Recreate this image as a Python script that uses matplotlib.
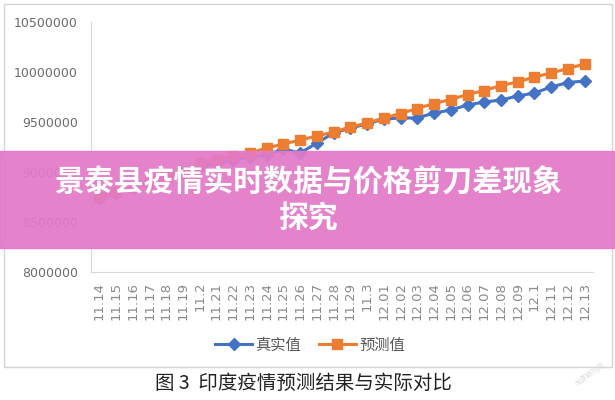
import matplotlib
matplotlib.use("Agg")
import matplotlib.pyplot as plt
from matplotlib.patches import Rectangle

plt.rcParams['font.family'] = ['Noto Sans CJK SC', 'DejaVu Sans']

# 日期标签
dates = ["11.14", "11.15", "11.16", "11.17", "11.18", "11.19", "11.2", "11.21",
         "11.22", "11.23", "11.24", "11.25", "11.26", "11.27", "11.28", "11.29",
         "11.3", "12.01", "12.02", "12.03", "12.04", "12.05", "12.06", "12.07",
         "12.08", "12.09", "12.1", "12.11", "12.12", "12.13"]

# 真实值
real = [8740000, 8790000, 8840000, 8890000, 8940000, 8990000, 9050000, 9090000,
        9120000, 9150000, 9170000, 9230000, 9190000, 9290000, 9390000, 9440000,
        9480000, 9530000, 9540000, 9540000, 9590000, 9620000, 9670000, 9700000,
        9720000, 9760000, 9790000, 9850000, 9895000, 9910000]

# 预测值
pred = [8750000, 8800000, 8850000, 8900000, 8950000, 9010000, 9090000, 9120000,
        9160000, 9190000, 9240000, 9280000, 9320000, 9360000, 9400000, 9450000,
        9490000, 9540000, 9585000, 9635000, 9685000, 9725000, 9775000, 9815000,
        9865000, 9900000, 9950000, 9990000, 10035000, 10080000]

yticks = [8000000, 8500000, 9000000, 9500000, 10000000, 10500000]

fig = plt.figure(figsize=(6.15, 4), dpi=100)
ax = fig.add_axes([91 / 615, 1 - 272 / 400, (593 - 91) / 615, 250 / 400])

x = list(range(len(dates)))
ax.plot(x, real, color='#4472C4', lw=2.2, marker='D', ms=6.5, label='真实值')
ax.plot(x, pred, color='#ED7D31', lw=2.2, marker='s', ms=7.5, label='预测值')

ax.set_xlim(-0.5, len(dates) - 0.5)
ax.set_ylim(8000000, 10500000)
ax.set_yticks(yticks)
ax.set_yticklabels([str(v) for v in yticks], fontsize=9, color='#6b6b6b',
                   family='DejaVu Sans')
ax.set_xticks(x)
ax.set_xticklabels(dates, rotation=90, fontsize=9.5, color='#8a8a8a',
                   family='DejaVu Sans')
ax.tick_params(length=0, pad=7)
ax.tick_params(axis='y', pad=9.5)

for s in ['top', 'right']:
    ax.spines[s].set_visible(False)
ax.spines['left'].set_color('#d9d9d9')
ax.spines['bottom'].set_color('#d9d9d9')

leg = fig.legend(loc='center', bbox_to_anchor=(310 / 615, 1 - 345 / 400), ncol=2,
                 frameon=False, fontsize=11, handlelength=2.4, columnspacing=1.2,
                 handletextpad=0.2)
for t in leg.get_texts():
    t.set_color('#595959')

# 外框
fig.patches.append(Rectangle((4 / 615, 1 - 367 / 400), 608 / 615, 363 / 400,
                             transform=fig.transFigure, fill=False,
                             edgecolor='#d4d4d4', lw=1))

fig.text(303 / 615, 1 - 383 / 400, "图 3  印度疫情预测结果与实际对比",
         ha='center', va='center', fontsize=14, color='#222222')
fig.text(590 / 615, 1 - 375 / 400, "龙源期刊网", ha='center', va='center',
         fontsize=5, color='#dddddd', rotation=35)

# 粉色横幅
fig.patches.append(Rectangle((0, 1 - 248 / 400), 1, 97 / 400,
                             transform=fig.transFigure, color='#e27ac8',
                             alpha=0.93, zorder=5))
fig.text(308 / 615, 1 - 183 / 400, "景泰县疫情实时数据与价格剪刀差现象",
         ha='center', va='center', fontsize=21.5, color='white',
         fontweight='heavy', zorder=6)
fig.text(308 / 615, 1 - 219 / 400, "探究", ha='center', va='center',
         fontsize=21.5, color='white', fontweight='heavy', zorder=6)

fig.savefig('out.png', dpi=100)
